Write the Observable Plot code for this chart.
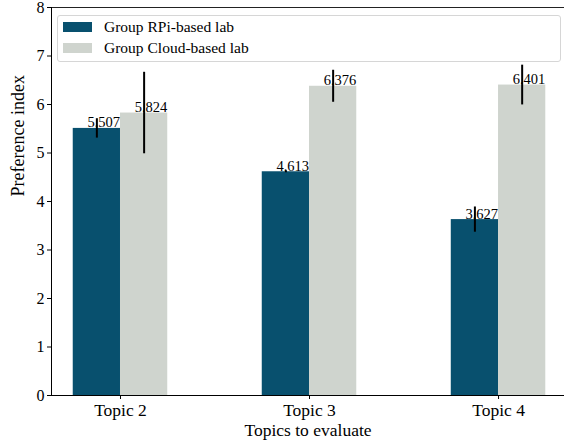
<!DOCTYPE html>
<html>
<head>
<meta charset="utf-8">
<script src="https://cdn.jsdelivr.net/npm/d3@7"></script>
<script src="https://cdn.jsdelivr.net/npm/@observablehq/plot@0.6"></script>
<style>
  html, body { margin: 0; padding: 0; background: #fff; overflow: hidden; }
  #wrap { position: relative; width: 564px; height: 444px; }
  .legend { position: absolute; left: 57px; top: 15px; width: 502px; height: 45px;
    border: 1px solid #d6d6d6; border-radius: 3px; background: rgba(255,255,255,0.8);
    font-family: "Liberation Serif", serif; font-size: 15.5px; color: #000; }
  .legend .row { position: absolute; left: 5px; height: 14px; display: flex; align-items: center; }
  .legend .sw { width: 29px; height: 10px; margin-right: 12px; }
</style>
</head>
<body>
<div id="wrap"></div>
<script>
const topics = ["Topic 2", "Topic 3", "Topic 4"];
const groups = ["Group RPi-based lab", "Group Cloud-based lab"];
const colors = ["#08506e", "#cfd4ce"];
const rpiMeans = [5.507, 4.613, 3.627];
const rpiErr = [0.20, 0.02, 0.26];
const cloudMeans = [5.824, 6.376, 6.401];
const cloudErr = [0.84, 0.33, 0.41];
const yTicks = [0, 1, 2, 3, 4, 5, 6, 7, 8];
const xLabel = "Topics to evaluate";
const yLabel = "Preference index";
const xDomain = [-0.365, 2.349];
const barWidth = 0.25;

const rows = [];
topics.forEach((t, i) => {
  rows.push({topic: t, i, g: 0, group: groups[0], mean: rpiMeans[i], err: rpiErr[i]});
  rows.push({topic: t, i, g: 1, group: groups[1], mean: cloudMeans[i], err: cloudErr[i]});
});
const left = d => d.i + (d.g - 1) * barWidth;
const center = d => left(d) + barWidth / 2;

const chart = Plot.plot({
  width: 564,
  height: 444,
  marginLeft: 51,
  marginRight: 0,
  marginTop: 7,
  marginBottom: 49,
  style: {fontFamily: "'Liberation Serif', serif", fontSize: "17.5px", color: "#000", background: "#fff"},
  x: {domain: xDomain, ticks: [0, 1, 2], tickFormat: i => topics[i], tickSize: 4, tickPadding: 4, label: null},
  y: {domain: [0, 8], ticks: yTicks, tickFormat: () => "", tickSize: 4, label: null},
  color: {domain: groups, range: colors},
  marks: [
    Plot.rectY(rows, {x1: left, x2: d => left(d) + barWidth, y1: 0, y2: "mean", fill: "group"}),
    Plot.ruleX(rows, {x: center, y1: d => d.mean - d.err, y2: d => d.mean + d.err, stroke: "#000", strokeWidth: 2}),
    Plot.text(rows, {x: d => center(d) - 0.05, y: "mean", text: d => d.mean.toFixed(3),
      textAnchor: "start", lineAnchor: "bottom", dy: -1, fontSize: 14.5, fill: "#000"}),
    Plot.text(yTicks, {x: xDomain[0], y: d => d, text: d => String(d), textAnchor: "end", dx: -7,
      fontSize: 16, fill: "#000"}),
    Plot.text([xLabel], {frameAnchor: "bottom", text: d => d, dy: 40, fontSize: 17.5, fill: "#000"}),
    Plot.text([yLabel], {frameAnchor: "left", text: d => d, rotate: -90, dx: -33, dy: -5, fontSize: 18, fill: "#000"}),
    Plot.ruleY([0], {stroke: "#000", strokeWidth: 1}),
    Plot.ruleY([8], {stroke: "#222", strokeWidth: 1}),
    Plot.ruleX([xDomain[0]], {stroke: "#000", strokeWidth: 1})
  ]
});

const wrap = document.getElementById("wrap");
wrap.appendChild(chart);

const legend = document.createElement("div");
legend.className = "legend";
groups.forEach((g, k) => {
  const row = document.createElement("div");
  row.className = "row";
  row.style.top = (4 + k * 21) + "px";
  const sw = document.createElement("div");
  sw.className = "sw";
  sw.style.background = colors[k];
  const tx = document.createElement("span");
  tx.textContent = g;
  row.appendChild(sw);
  row.appendChild(tx);
  legend.appendChild(row);
});
wrap.appendChild(legend);
</script>
</body>
</html>
